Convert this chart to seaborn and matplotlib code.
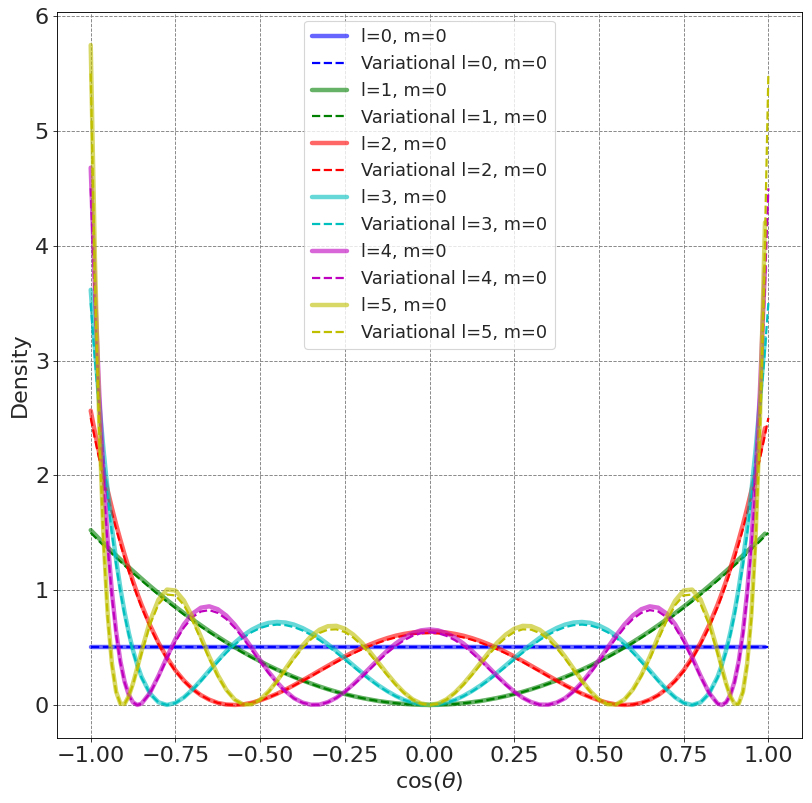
import numpy as np
import matplotlib
matplotlib.use('Agg')
import matplotlib.pyplot as plt
import seaborn as sns

# sample positions in cos(theta): 0.025 steps, 0.0125 steps near the ends
x_half = np.concatenate([np.linspace(0, 0.85, 35), np.linspace(0.8625, 1, 12)])
x_var = np.concatenate([-x_half[:0:-1], x_half])               # variational curves: -1 .. 1
x_exact = np.concatenate([-x_half[:0:-1], x_half[:-2], [0.99]])  # exact curves stop at 0.99

# exact densities (solid)
exact_l0 = [0.507] * 92
exact_l1 = ([1.523, 1.485, 1.447, 1.41, 1.374, 1.338, 1.303, 1.268, 1.233, 1.199, 1.166, 1.133]
            + [1.1, 1.036, 0.974, 0.914, 0.856, 0.8, 0.746, 0.694, 0.643, 0.595, 0.548, 0.503, 0.461, 0.42, 0.381, 0.343, 0.308,
               0.275, 0.244, 0.214, 0.187, 0.161, 0.137, 0.115, 0.095, 0.077, 0.061, 0.047, 0.034, 0.024, 0.015, 0.009, 0.004, 0.001]
            + [0]
            + [0.001, 0.004, 0.009, 0.015, 0.024, 0.034, 0.047, 0.061, 0.077, 0.095, 0.115, 0.137, 0.161, 0.187, 0.214, 0.244,
               0.275, 0.308, 0.343, 0.381, 0.42, 0.461, 0.503, 0.548, 0.595, 0.643, 0.694, 0.746, 0.8, 0.856, 0.914, 0.974, 1.036, 1.1]
            + [1.133, 1.166, 1.199, 1.233, 1.268, 1.303, 1.338, 1.374, 1.41, 1.447, 1.492])
exact_l2 = ([2.563, 2.375, 2.197, 2.028, 1.868, 1.716, 1.572, 1.438, 1.31, 1.19, 1.077, 0.972]
            + [0.873, 0.695, 0.542, 0.412, 0.302, 0.213, 0.141, 0.086, 0.046, 0.018, 0.004, 0.0, 0.005, 0.019, 0.04, 0.067, 0.098,
               0.134, 0.173, 0.214, 0.256, 0.299, 0.341, 0.383, 0.423, 0.461, 0.496, 0.528, 0.557, 0.582, 0.603, 0.619, 0.631, 0.639]
            + [0.641]
            + [0.639, 0.631, 0.619, 0.603, 0.582, 0.557, 0.528, 0.496, 0.461, 0.423, 0.383, 0.341, 0.299, 0.256, 0.214, 0.173,
               0.134, 0.098, 0.067, 0.04, 0.019, 0.005, 0.0, 0.004, 0.018, 0.046, 0.086, 0.141, 0.213, 0.302, 0.412, 0.542, 0.695, 0.873]
            + [0.972, 1.077, 1.19, 1.31, 1.438, 1.572, 1.716, 1.868, 2.028, 2.197, 2.412])
exact_l3 = ([3.616, 3.101, 2.64, 2.23, 1.867, 1.545, 1.263, 1.018, 0.807, 0.627, 0.474, 0.348]
            + [0.245, 0.1, 0.023, 0.0, 0.018, 0.066, 0.134, 0.215, 0.301, 0.387, 0.469, 0.542, 0.605, 0.655, 0.692, 0.715, 0.723,
               0.718, 0.7, 0.67, 0.631, 0.584, 0.529, 0.47, 0.408, 0.345, 0.283, 0.224, 0.169, 0.121, 0.079, 0.044, 0.021, 0.005]
            + [0]
            + [0.005, 0.021, 0.044, 0.079, 0.121, 0.169, 0.224, 0.283, 0.345, 0.408, 0.47, 0.529, 0.584, 0.631, 0.67, 0.7, 0.718,
               0.723, 0.715, 0.692, 0.655, 0.605, 0.542, 0.469, 0.387, 0.301, 0.215, 0.134, 0.066, 0.018, 0.0, 0.023, 0.1, 0.245]
            + [0.348, 0.474, 0.627, 0.807, 1.018, 1.263, 1.545, 1.867, 2.23, 2.64, 3.196])
exact_l4 = ([4.68, 3.612, 2.73, 2.012, 1.437, 0.985, 0.639, 0.382, 0.203, 0.086, 0.022, 0.0]
            + [0.012, 0.106, 0.254, 0.418, 0.574, 0.702, 0.795, 0.847, 0.859, 0.834, 0.779, 0.7, 0.603, 0.498, 0.391, 0.289, 0.197,
               0.12, 0.059, 0.021, 0.002, 0.003, 0.025, 0.063, 0.116, 0.181, 0.252, 0.327, 0.401, 0.472, 0.535, 0.587, 0.626, 0.65]
            + [0.658]
            + [0.65, 0.626, 0.587, 0.535, 0.472, 0.401, 0.327, 0.252, 0.181, 0.116, 0.063, 0.025, 0.003, 0.002, 0.021, 0.059, 0.12,
               0.197, 0.289, 0.391, 0.498, 0.603, 0.7, 0.779, 0.834, 0.859, 0.847, 0.795, 0.702, 0.574, 0.418, 0.254, 0.106, 0.012]
            + [0.0, 0.022, 0.086, 0.203, 0.382, 0.639, 0.985, 1.437, 2.012, 2.73, 3.81])
exact_l5 = ([5.748, 3.87, 2.479, 1.482, 0.798, 0.362, 0.116, 0.011, 0.009, 0.078, 0.19, 0.326]
            + [0.469, 0.732, 0.918, 1.005, 0.997, 0.909, 0.767, 0.596, 0.42, 0.261, 0.134, 0.047, 0.004, 0.006, 0.046, 0.118, 0.211,
               0.316, 0.421, 0.517, 0.598, 0.655, 0.686, 0.689, 0.664, 0.613, 0.543, 0.459, 0.366, 0.272, 0.184, 0.108, 0.049, 0.013]
            + [0]
            + [0.013, 0.049, 0.108, 0.184, 0.272, 0.366, 0.459, 0.543, 0.613, 0.664, 0.689, 0.686, 0.655, 0.598, 0.517, 0.421, 0.316,
               0.211, 0.118, 0.046, 0.006, 0.004, 0.047, 0.134, 0.261, 0.42, 0.596, 0.767, 0.909, 0.997, 1.005, 0.918, 0.732, 0.469]
            + [0.326, 0.19, 0.078, 0.009, 0.011, 0.116, 0.362, 0.798, 1.482, 2.479, 4.203])

# variational densities (dashed)
var_l0 = [0.505] * 93
var_l1 = ([1.5, 1.463, 1.426, 1.39, 1.354, 1.318, 1.283, 1.249, 1.215, 1.181, 1.148, 1.116]
          + [1.084, 1.021, 0.96, 0.901, 0.844, 0.788, 0.735, 0.683, 0.634, 0.586, 0.54, 0.496, 0.454, 0.413, 0.375, 0.338, 0.304,
             0.271, 0.24, 0.211, 0.184, 0.158, 0.135, 0.113, 0.094, 0.076, 0.06, 0.046, 0.034, 0.023, 0.015, 0.008, 0.004, 0.001]
          + [0]
          + [0.001, 0.004, 0.008, 0.015, 0.023, 0.034, 0.046, 0.06, 0.076, 0.094, 0.113, 0.135, 0.158, 0.184, 0.211, 0.24, 0.271,
             0.304, 0.338, 0.375, 0.413, 0.454, 0.496, 0.54, 0.586, 0.634, 0.683, 0.735, 0.788, 0.844, 0.901, 0.96, 1.021, 1.084]
          + [1.116, 1.148, 1.181, 1.215, 1.249, 1.283, 1.318, 1.354, 1.39, 1.426, 1.463, 1.5])
var_l2 = ([2.5, 2.317, 2.143, 1.979, 1.822, 1.674, 1.534, 1.402, 1.278, 1.161, 1.051, 0.948]
          + [0.852, 0.678, 0.529, 0.402, 0.295, 0.208, 0.138, 0.084, 0.045, 0.018, 0.004, 0.0, 0.005, 0.019, 0.039, 0.065, 0.096,
             0.131, 0.169, 0.209, 0.25, 0.292, 0.333, 0.374, 0.413, 0.45, 0.484, 0.515, 0.543, 0.568, 0.588, 0.604, 0.616, 0.623]
          + [0.625]
          + [0.623, 0.616, 0.604, 0.588, 0.568, 0.543, 0.515, 0.484, 0.45, 0.413, 0.374, 0.333, 0.292, 0.25, 0.209, 0.169, 0.131,
             0.096, 0.065, 0.039, 0.019, 0.005, 0.0, 0.004, 0.018, 0.045, 0.084, 0.138, 0.208, 0.295, 0.402, 0.529, 0.678, 0.852]
          + [0.948, 1.051, 1.161, 1.278, 1.402, 1.534, 1.674, 1.822, 1.979, 2.143, 2.317, 2.5])
var_l3 = ([3.5, 3.002, 2.556, 2.159, 1.807, 1.496, 1.223, 0.986, 0.781, 0.607, 0.459, 0.337]
          + [0.237, 0.097, 0.022, 0.0, 0.017, 0.064, 0.13, 0.208, 0.291, 0.375, 0.454, 0.525, 0.586, 0.634, 0.67, 0.692, 0.7,
             0.695, 0.678, 0.649, 0.611, 0.565, 0.512, 0.455, 0.395, 0.334, 0.274, 0.217, 0.164, 0.117, 0.076, 0.043, 0.02, 0.005]
          + [0]
          + [0.005, 0.02, 0.043, 0.076, 0.117, 0.164, 0.217, 0.274, 0.334, 0.395, 0.455, 0.512, 0.565, 0.611, 0.649, 0.678, 0.695,
             0.7, 0.692, 0.67, 0.634, 0.586, 0.525, 0.454, 0.375, 0.291, 0.208, 0.13, 0.064, 0.017, 0.0, 0.022, 0.097, 0.237]
          + [0.337, 0.459, 0.607, 0.781, 0.986, 1.223, 1.496, 1.807, 2.159, 2.556, 3.002, 3.5])
var_l4 = ([4.5, 3.473, 2.625, 1.935, 1.382, 0.947, 0.614, 0.368, 0.195, 0.083, 0.021, 0.0]
          + [0.012, 0.102, 0.244, 0.402, 0.552, 0.675, 0.764, 0.814, 0.826, 0.802, 0.749, 0.673, 0.58, 0.479, 0.376, 0.278, 0.189,
             0.115, 0.057, 0.02, 0.002, 0.003, 0.024, 0.061, 0.112, 0.174, 0.242, 0.314, 0.386, 0.454, 0.514, 0.564, 0.602, 0.625]
          + [0.633]
          + [0.625, 0.602, 0.564, 0.514, 0.454, 0.386, 0.314, 0.242, 0.174, 0.112, 0.061, 0.024, 0.003, 0.002, 0.02, 0.057, 0.115,
             0.189, 0.278, 0.376, 0.479, 0.58, 0.673, 0.749, 0.802, 0.826, 0.814, 0.764, 0.675, 0.552, 0.402, 0.244, 0.102, 0.012]
          + [0.0, 0.021, 0.083, 0.195, 0.368, 0.614, 0.947, 1.382, 1.935, 2.625, 3.473, 4.5])
var_l5 = ([5.5, 3.703, 2.372, 1.418, 0.764, 0.347, 0.111, 0.011, 0.009, 0.075, 0.182, 0.312]
          + [0.449, 0.7, 0.878, 0.962, 0.954, 0.87, 0.734, 0.57, 0.402, 0.25, 0.128, 0.045, 0.004, 0.006, 0.044, 0.113, 0.202,
             0.302, 0.403, 0.495, 0.572, 0.627, 0.656, 0.659, 0.635, 0.587, 0.52, 0.439, 0.35, 0.26, 0.176, 0.103, 0.047, 0.012]
          + [0]
          + [0.012, 0.047, 0.103, 0.176, 0.26, 0.35, 0.439, 0.52, 0.587, 0.635, 0.659, 0.656, 0.627, 0.572, 0.495, 0.403, 0.302,
             0.202, 0.113, 0.044, 0.006, 0.004, 0.045, 0.128, 0.25, 0.402, 0.57, 0.734, 0.87, 0.954, 0.962, 0.878, 0.7, 0.449]
          + [0.312, 0.182, 0.075, 0.009, 0.011, 0.111, 0.347, 0.764, 1.418, 2.372, 3.703, 5.5])

exact = [exact_l0, exact_l1, exact_l2, exact_l3, exact_l4, exact_l5]
variational = [var_l0, var_l1, var_l2, var_l3, var_l4, var_l5]
colors = ['b', 'g', 'r', 'c', 'm', 'y']

sns.set_style('ticks')
plt.rcParams['font.family'] = ['DejaVu Sans']

fig, ax = plt.subplots(figsize=(812 / 80, 803 / 80), dpi=80)
fig.subplots_adjust(left=0.070, right=0.988, bottom=0.081, top=0.985)

for l in range(6):
    sns.lineplot(x=x_exact, y=exact[l], color=colors[l], linewidth=4, alpha=0.6,
                 label=f'l={l}, m=0', ax=ax, sort=False)
    sns.lineplot(x=x_var, y=variational[l], color=colors[l], linewidth=2, linestyle='--',
                 label=f'Variational l={l}, m=0', ax=ax, sort=False)

ax.grid(True, linestyle='--', color='gray', linewidth=0.8)
ax.set_xlabel(r'cos($\theta$)', fontsize=20)
ax.set_ylabel('Density', fontsize=20)
ax.tick_params(labelsize=20)
for s in ax.spines.values():
    s.set_color('black')
ax.legend(loc='upper center', fontsize=16)

fig.savefig('out.png', dpi=80)
